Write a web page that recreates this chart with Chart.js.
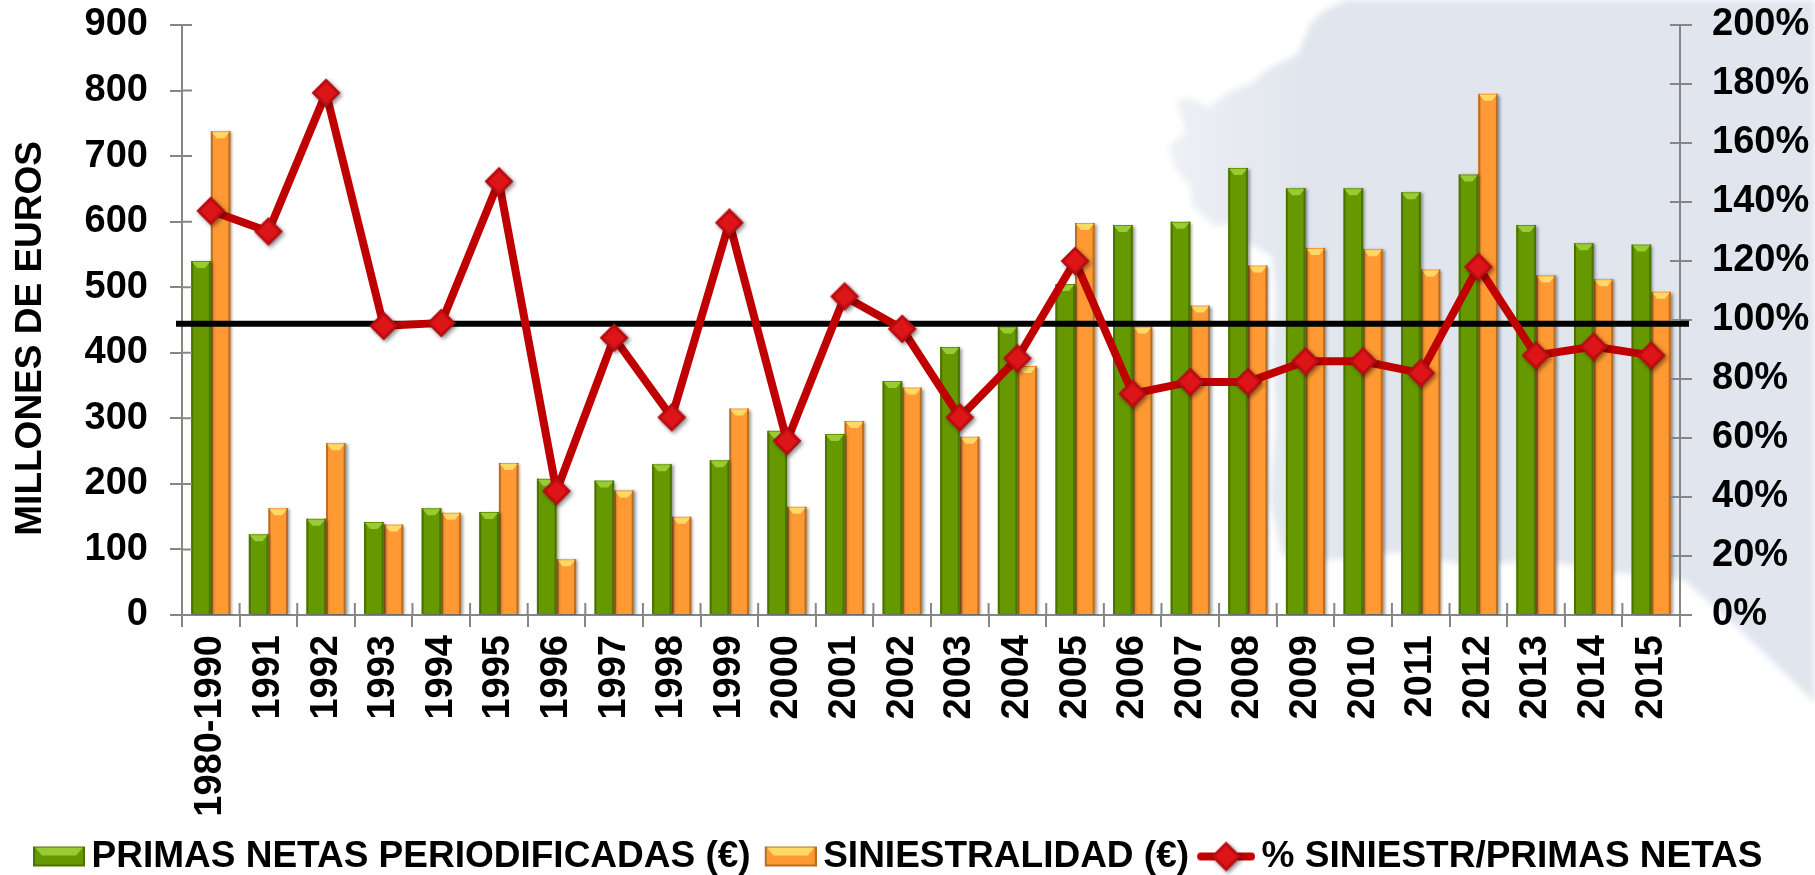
<!DOCTYPE html>
<html>
<head>
<meta charset="utf-8">
<title>Primas y siniestralidad</title>
<script src="https://cdn.jsdelivr.net/npm/chart.js@4"></script>
<style>
    html, body { margin: 0; padding: 0; background: #fff; }
    #box { width: 1815px; height: 875px; }
</style>
</head>
<body>
<div id="box"><canvas id="chart" width="1815" height="875"></canvas></div>
<script>
const years = ['1980-1990', '1991', '1992', '1993', '1994', '1995', '1996', '1997', '1998', '1999', '2000', '2001', '2002',
    '2003', '2004', '2005', '2006', '2007', '2008', '2009', '2010', '2011', '2012', '2013', '2014', '2015'];
const primas = [540, 123, 147, 142, 163, 157, 208, 205, 230, 236, 281, 276, 357, 409, 440, 505, 595, 600, 682, 651, 651, 645, 672, 595, 567, 565];
const siniestralidad = [738, 163, 262, 138, 156, 232, 85, 190, 150, 315, 165, 296, 347, 272, 380, 598, 440, 472, 533, 560, 558, 527, 795, 518, 512, 493];
const porcentaje = [137, 130, 177, 98, 99, 147, 42, 94, 67, 133, 59, 108, 97, 67, 87, 120, 75, 79, 79, 86, 86, 82, 118, 88, 91, 88];
const refLine = 98.7;
const yTitle = 'MILLONES DE EUROS';

const FONT = '"Liberation Sans", Arial, sans-serif';
const AXIS = '#868686';
const GREEN = { body: '#669900', top: '#99cc33', edge: '#4c7200' };
const ORANGE = { body: '#ff9933', top: '#ffd966', edge: '#b56f27' };

// rough outline of the pale map behind the chart
const mapOutline = [[1346, 0], [1322, 12], [1310, 24], [1298, 54], [1272, 66], [1250, 84], [1228, 92], [1208, 108], [1192, 98], [1176, 100],
    [1186, 132], [1168, 146], [1176, 170], [1190, 186], [1192, 206], [1214, 226], [1230, 224], [1250, 244], [1272, 256], [1276, 300], [1272, 350],
    [1276, 420], [1270, 500], [1282, 556], [1330, 560], [1400, 552], [1470, 566], [1540, 560], [1610, 572], [1684, 580], [1740, 630], [1815, 703], [1815, 0]];

function drawDiamond(c, x, y, r) {
    c.save();
    c.shadowColor = 'rgba(0,0,0,0.45)';
    c.shadowBlur = 4;
    c.shadowOffsetX = 2;
    c.shadowOffsetY = 2;
    c.beginPath();
    c.moveTo(x, y - r); c.lineTo(x + r, y); c.lineTo(x, y + r); c.lineTo(x - r, y);
    c.closePath();
    c.fillStyle = '#b80d12';
    c.fill();
    c.restore();
    // lighter middle facet
    c.beginPath();
    c.moveTo(x, y - r + 4); c.lineTo(x + r - 4, y); c.lineTo(x, y + r - 4); c.lineTo(x - r + 4, y);
    c.closePath();
    c.fillStyle = '#dd1418';
    c.fill();
}

function makeCanvas(w, h) {
    const cv = document.createElement('canvas');
    cv.width = w;
    cv.height = h;
    return cv;
}

function barIcon(col) {
    const cv = makeCanvas(74, 26);
    const c = cv.getContext('2d');
    const x = 22, y = 3, w = 52, h = 20;
    c.fillStyle = col.edge;
    c.fillRect(x, y, w, h);
    c.fillStyle = col.body;
    c.fillRect(x + 2, y + 2, w - 4, h - 4);
    c.fillStyle = col.top;
    c.beginPath();
    c.moveTo(x + 2, y + 1); c.lineTo(x + w - 2, y + 1); c.lineTo(x + w - 9, y + 9); c.lineTo(x + 9, y + 9);
    c.closePath();
    c.fill();
    return cv;
}

function lineIcon() {
    const cv = makeCanvas(74, 36);
    const c = cv.getContext('2d');
    c.strokeStyle = '#c00000';
    c.lineWidth = 8;
    c.lineCap = 'round';
    c.beginPath();
    c.moveTo(20, 18);
    c.lineTo(70, 18);
    c.stroke();
    drawDiamond(c, 45, 18, 15);
    return cv;
}

function pointIcon() {
    const cv = makeCanvas(40, 40);
    drawDiamond(cv.getContext('2d'), 20, 20, 14.5);
    return cv;
}

const legendIcons = [barIcon(GREEN), barIcon(ORANGE), lineIcon()];

const backdrop = {
    id: 'backdrop',
    beforeDraw(chart) {
        const c = chart.ctx;
        const fade = c.createLinearGradient(1170, 0, 1300, 0);
        fade.addColorStop(0, '#eef0f4');
        fade.addColorStop(1, '#e1e6ee');
        c.save();
        c.filter = 'blur(3px)';
        c.fillStyle = fade;
        c.beginPath();
        mapOutline.forEach((p, i) => i ? c.lineTo(p[0], p[1]) : c.moveTo(p[0], p[1]));
        c.closePath();
        c.fill();
        c.restore();
    }
};

const chartDecor = {
    id: 'chartDecor',
    beforeDatasetDraw(chart, args) {
        const c = chart.ctx;
        c.save();
        if (args.index < 2) {
            c.shadowColor = 'rgba(0,0,0,0.4)';
            c.shadowBlur = 3;
            c.shadowOffsetX = 2;
            c.shadowOffsetY = 1;
        } else {
            // black 100% line sits under the red series
            const y = chart.scales.y1.getPixelForValue(refLine);
            c.strokeStyle = '#000';
            c.lineWidth = 6;
            c.beginPath();
            c.moveTo(chart.chartArea.left - 6, y);
            c.lineTo(chart.chartArea.right + 9, y);
            c.stroke();
        }
    },
    afterDatasetDraw(chart, args) {
        const c = chart.ctx;
        c.restore();
        if (args.index > 1) return;
        const col = args.index === 0 ? GREEN : ORANGE;
        args.meta.data.forEach(bar => {
            const l = bar.x - bar.width / 2, r = bar.x + bar.width / 2, t = bar.y, b = bar.base;
            c.fillStyle = col.edge;
            c.fillRect(l, t, 2, b - t);
            c.fillRect(r - 2, t, 2, b - t);
            c.fillStyle = col.top;
            c.beginPath();
            c.moveTo(l + 1, t + 1); c.lineTo(r - 1, t + 1); c.lineTo(r - 6, t + 7); c.lineTo(l + 6, t + 7);
            c.closePath();
            c.fill();
        });
    },
    afterDraw(chart) {
        const c = chart.ctx, area = chart.chartArea;
        const { y, y1 } = chart.scales;
        // ticks also cross into the plot, outward part comes from the scales
        c.save();
        c.strokeStyle = AXIS;
        c.lineWidth = 2;
        c.beginPath();
        y.ticks.forEach(t => {
            const p = y.getPixelForValue(t.value);
            c.moveTo(area.left, p); c.lineTo(area.left + 10, p);
        });
        y1.ticks.forEach(t => {
            const p = y1.getPixelForValue(t.value);
            c.moveTo(area.right - 10, p); c.lineTo(area.right, p);
        });
        for (let i = 0; i <= years.length; i++) {
            const p = area.left + i * (area.right - area.left) / years.length;
            c.moveTo(p, area.bottom - 12); c.lineTo(p, area.bottom);
        }
        c.stroke();
        // axis title, sits a bit above the middle of the axis
        c.translate(area.left - 151, y.getPixelForValue(422));
        c.rotate(-Math.PI / 2);
        c.font = 'bold 37px ' + FONT;
        c.fillStyle = '#000';
        c.textAlign = 'center';
        c.textBaseline = 'middle';
        c.fillText(yTitle, 0, 0);
        c.restore();
    }
};

function tickFont() {
    return { family: FONT, size: 38, weight: 'bold' };
}

// fixed axis width, and no extra room asked for the end labels
function fitSide(width) {
    return function(s) {
        s.width = width;
        s.paddingTop = 0;
        s.paddingBottom = 0;
    };
}

window.onload = function() {
    const ctx = document.getElementById('chart').getContext('2d');
    new Chart(ctx, {
        data: {
            labels: years,
            datasets: [
                { type: 'bar', label: 'PRIMAS NETAS PERIODIFICADAS (€)', data: primas, backgroundColor: GREEN.body, yAxisID: 'y', order: 2 },
                { type: 'bar', label: 'SINIESTRALIDAD (€)', data: siniestralidad, backgroundColor: ORANGE.body, yAxisID: 'y', order: 2 },
                {
                    type: 'line', label: '% SINIESTR/PRIMAS NETAS', data: porcentaje, yAxisID: 'y1', order: 1,
                    borderColor: '#c00000', borderWidth: 8, tension: 0,
                    pointStyle: pointIcon(), pointRadius: 14
                }
            ]
        },
        options: {
            responsive: false,
            animation: false,
            layout: { padding: { top: 25, right: 0, left: 19, bottom: -10 } },
            datasets: { bar: { categoryPercentage: 0.68, barPercentage: 1 } },
            plugins: {
                tooltip: { enabled: false },
                legend: {
                    position: 'bottom',
                    align: 'start',
                    labels: {
                        usePointStyle: true,
                        pointStyleWidth: 50,
                        padding: 4,
                        color: '#000',
                        font: { family: FONT, size: 37, weight: 'bold' },
                        generateLabels(chart) {
                            return chart.data.datasets.map((d, i) => ({
                                text: d.label, pointStyle: legendIcons[i], datasetIndex: i, fontColor: '#000', lineWidth: 0
                            }));
                        }
                    }
                }
            },
            scales: {
                x: {
                    afterFit(s) { s.height = 219; },
                    grid: { drawOnChartArea: false, color: AXIS, lineWidth: 2, tickLength: 12 },
                    border: { color: AXIS, width: 2 },
                    ticks: { color: '#000', font: tickFont(), minRotation: 90, maxRotation: 90, autoSkip: false, padding: 8 }
                },
                y: {
                    position: 'left',
                    min: 0, max: 900,
                    afterFit: fitSide(163),
                    grid: { drawOnChartArea: false, color: AXIS, lineWidth: 2, tickLength: 12 },
                    border: { color: AXIS, width: 2 },
                    ticks: { color: '#000', font: tickFont(), stepSize: 100, padding: 22 }
                },
                y1: {
                    position: 'right',
                    min: 0, max: 200,
                    afterFit: fitSide(135),
                    grid: { drawOnChartArea: false, color: AXIS, lineWidth: 2, tickLength: 12 },
                    border: { color: AXIS, width: 2 },
                    ticks: { color: '#000', font: tickFont(), stepSize: 20, padding: 20, callback: v => v + '%' }
                }
            }
        },
        plugins: [backdrop, chartDecor]
    });
};
</script>
</body>
</html>
